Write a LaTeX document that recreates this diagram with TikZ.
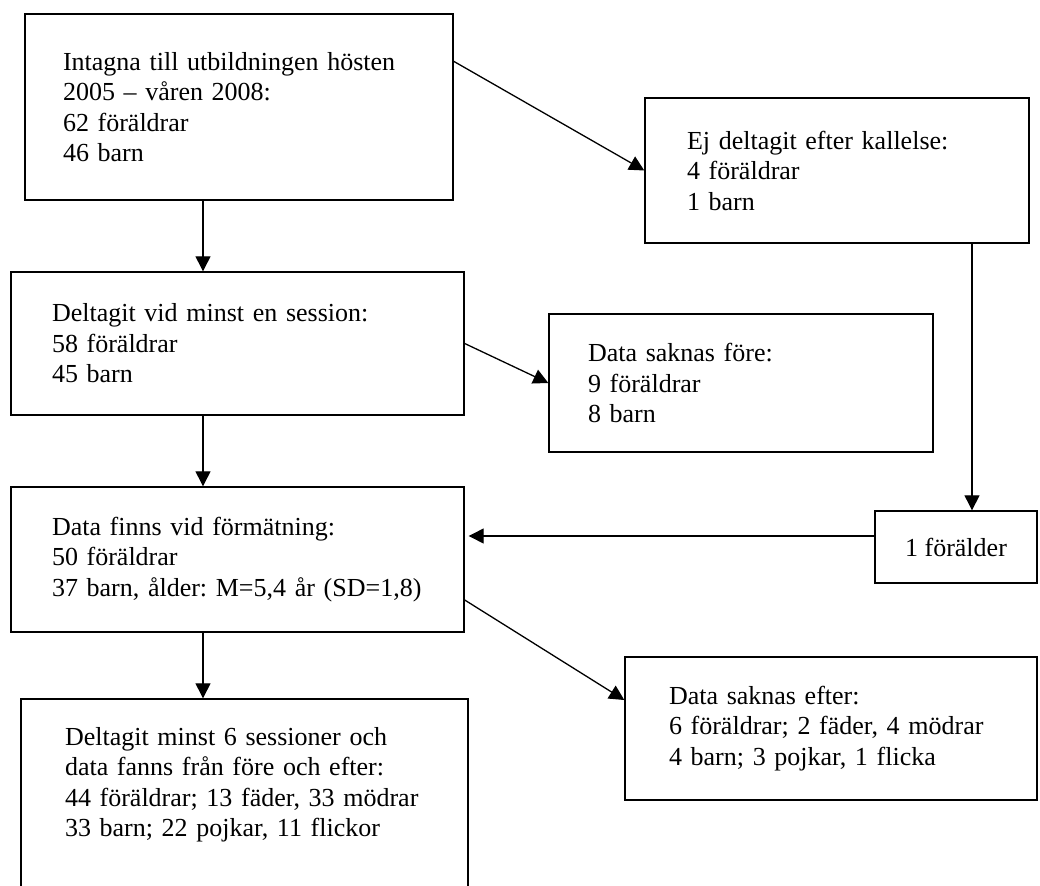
\documentclass[tikz,border=0pt]{standalone}
\usepackage{fontspec}
\setmainfont{Liberation Serif}
\usetikzlibrary{arrows.meta,calc}
\frenchspacing
\begin{document}
\begin{tikzpicture}[x=1pt,y=-1pt,
  box/.style={draw, line width=1.4pt, align=left, inner xsep=40pt, inner ysep=0pt,
              font=\fontsize{26}{30.5}\selectfont},
  conn/.style={line width=1.3pt, -{Triangle[length=15pt,width=15pt]}}]
\useasboundingbox (0,0) rectangle (1040,885);
\clip (0,0) rectangle (1040,885);
\fill[white] (0,0) rectangle (1040,885);

\node[box, inner xsep=38pt, text width=352pt, minimum height=186pt] (intag) at (239,107)
  {Intagna till utbildningen hösten\\2005 – våren 2008:\\62 föräldrar\\46 barn};
\node[box, inner xsep=42pt, text width=300pt, minimum height=145pt] (ej) at (837,170.5)
  {Ej deltagit efter kallelse:\\4 föräldrar\\1 barn};
\node[box, inner xsep=41pt, text width=371pt, minimum height=143pt] (delt) at (237.5,343.5)
  {Deltagit vid minst en session:\\58 föräldrar\\45 barn};
\node[box, inner xsep=39pt, text width=306pt, minimum height=138pt] (fore) at (741,383)
  {Data saknas före:\\9 föräldrar\\8 barn};
\node[box, inner xsep=41pt, text width=371pt, minimum height=145pt] (finns) at (237.5,559.5)
  {Data finns vid förmätning:\\50 föräldrar\\37 barn, ålder: M=5,4 år (SD=1,8)};
\node[draw, line width=1.4pt, inner sep=0pt, font=\fontsize{26}{30.5}\selectfont,
      minimum width=162pt, minimum height=72pt] (foral) at (956,547) {1 förälder};
\node[box, inner xsep=44pt, text width=359pt, minimum height=206pt] (minst) at (244.5,802)
  {Deltagit minst 6 sessioner och\\data fanns från före och efter:\\44 föräldrar; 13 fäder, 33 mödrar\\33 barn; 22 pojkar, 11 flickor\rule[-40pt]{0pt}{1pt}};
\node[box, inner xsep=44pt, text width=324pt, minimum height=143pt] (efter) at (831,728.5)
  {Data saknas efter:\\6 föräldrar; 2 fäder, 4 mödrar\\4 barn; 3 pojkar, 1 flicka};

\coordinate (spine) at (203,0);
\coordinate (rline) at (972,0);
\coordinate (hl) at (0,536);

\draw[conn] (intag.south -| spine) -- (delt.north -| spine);
\draw[conn] (delt.south -| spine) -- (finns.north -| spine);
\draw[conn] (finns.south -| spine) -- (minst.north -| spine);
\draw[conn] ($(intag.north east)+(0,48)$) -- (ej.west);
\draw[conn] (ej.south -| rline) -- (foral.north -| rline);
\draw[conn] (delt.east) -- (fore.west);
\draw[conn] (foral.west |- hl) -- ($(finns.east |- hl)+(4,0)$);
\draw[conn] ($(finns.east)+(0,40.5)$) -- ($(efter.west)+(0,-28.5)$);
\end{tikzpicture}
\end{document}
